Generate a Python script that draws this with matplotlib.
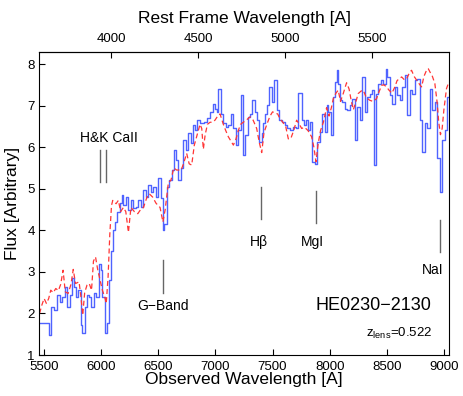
import matplotlib
matplotlib.use('Agg')
import matplotlib.pyplot as plt

# Liberation Sans looks closest to the Helvetica of the original
plt.rcParams['font.family'] = ['Liberation Sans', 'DejaVu Sans']
plt.rcParams['mathtext.fontset'] = 'custom'
plt.rcParams['mathtext.rm'] = 'Liberation Sans'
plt.rcParams['mathtext.it'] = 'Liberation Sans'

z_lens = 0.522

# observed spectrum, left edge of each bin (A) and flux
obs_wave = [5465, 5544, 5558, 5587, 5617, 5637, 5660, 5684, 5704, 5725,
            5748, 5763, 5783, 5800, 5821, 5835, 5856, 5879, 5894, 5914,
            5938, 5958, 5981, 5996, 6010, 6031, 6048, 6069, 6083, 6100,
            6120, 6140, 6160, 6180, 6194, 6218, 6238, 6258, 6282, 6305,
            6325, 6346, 6369, 6393, 6413, 6433, 6457, 6480, 6500, 6521,
            6538, 6553, 6573, 6597, 6617, 6638, 6655, 6675, 6696, 6719,
            6740, 6763, 6783, 6801, 6821, 6842, 6865, 6900, 6930, 6952,
            6976, 6996, 7011, 7025, 7046, 7069, 7093, 7113, 7133, 7157,
            7180, 7200, 7221, 7238, 7259, 7282, 7303, 7323, 7346, 7367,
            7385, 7405, 7420, 7434, 7454, 7472, 7492, 7513, 7536, 7556,
            7580, 7605, 7630, 7655, 7680, 7705, 7725, 7755, 7772, 7790,
            7812, 7828, 7848, 7870, 7892, 7915, 7935, 7955, 7973, 7988,
            8010, 8032, 8046, 8062, 8076, 8090, 8110, 8134, 8154, 8178,
            8198, 8221, 8242, 8265, 8286, 8309, 8329, 8353, 8367, 8385,
            8402, 8426, 8446, 8469, 8490, 8504, 8528, 8548, 8571, 8592,
            8615, 8636, 8659, 8679, 8703, 8723, 8746, 8767, 8790, 8811,
            8834, 8854, 8878, 8898, 8921, 8942, 8965, 8986, 9009, 9029,
            9045]
obs_flux = [1.77, 1.48, 2.16, 2.08, 2.44, 2.28, 2.40, 2.64, 2.16, 2.44,
            2.85, 2.64, 2.40, 2.56, 1.72, 1.52, 2.16, 2.44, 2.40, 2.16,
            2.48, 2.40, 3.20, 3.04, 2.40, 1.52, 1.77, 2.81, 3.50, 4.00,
            4.20, 4.45, 4.65, 4.85, 4.61, 4.81, 4.49, 4.73, 4.53, 4.57,
            4.73, 4.57, 4.97, 4.81, 5.09, 4.93, 5.05, 4.81, 5.25, 4.77,
            4.00, 4.16, 5.05, 5.21, 5.45, 5.93, 5.69, 5.21, 5.49, 6.17,
            5.93, 6.33, 6.09, 6.53, 6.41, 6.65, 6.57, 6.60, 6.70, 6.85,
            7.05, 6.93, 6.85, 7.39, 6.81, 6.57, 6.49, 6.53, 6.81, 6.45,
            6.05, 6.41, 7.25, 5.80, 6.29, 6.73, 6.81, 7.13, 6.85, 6.65,
            6.13, 6.35, 6.57, 6.81, 7.01, 7.45, 7.09, 7.61, 6.89, 6.65,
            6.60, 6.53, 6.45, 6.41, 6.49, 6.45, 7.30, 6.65, 6.53, 6.65,
            6.41, 6.61, 5.65, 5.60, 6.13, 6.37, 6.81, 6.37, 7.01, 6.85,
            6.29, 7.21, 7.57, 7.85, 7.53, 7.13, 7.09, 6.93, 6.89, 7.01,
            7.17, 6.17, 6.97, 6.65, 7.69, 6.85, 7.21, 7.29, 7.37, 5.57,
            7.29, 7.53, 7.61, 7.53, 7.89, 7.69, 7.25, 7.05, 7.45, 7.25,
            7.13, 7.45, 7.73, 6.77, 7.37, 7.29, 7.61, 7.65, 6.65, 5.89,
            6.57, 6.45, 7.41, 6.89, 7.09, 5.73, 4.93, 6.17, 6.41, 7.21,
            7.21]

# template spectrum (red dashed)
tmpl_wave = [5460, 5480, 5500, 5520, 5540, 5558, 5580, 5602, 5625, 5645,
             5666, 5685, 5710, 5735, 5755, 5775, 5806, 5822, 5838, 5855,
             5875, 5895, 5915, 5932, 5950, 5970, 5990, 6010, 6030, 6044,
             6060, 6075, 6090, 6101, 6130, 6150, 6170, 6194, 6215, 6238,
             6260, 6290, 6320, 6345, 6370, 6398, 6420, 6450, 6480, 6515,
             6540, 6560, 6588, 6610, 6635, 6660, 6680, 6700, 6720, 6748,
             6770, 6792, 6815, 6840, 6865, 6880, 6894, 6910, 6930, 6953,
             6975, 6996, 7020, 7040, 7069, 7090, 7113, 7135, 7157, 7180,
             7200, 7220, 7244, 7270, 7303, 7330, 7361, 7385, 7405, 7425,
             7450, 7478, 7500, 7521, 7545, 7565, 7590, 7615, 7638, 7660,
             7685, 7711, 7735, 7755, 7780, 7810, 7842, 7862, 7880, 7900,
             7920, 7945, 7973, 7995, 8015, 8032, 8055, 8075, 8095, 8120,
             8148, 8170, 8190, 8207, 8225, 8250, 8275, 8294, 8320, 8350,
             8380, 8411, 8435, 8455, 8475, 8498, 8520, 8545, 8571, 8590,
             8610, 8630, 8655, 8675, 8700, 8717, 8740, 8765, 8790, 8805,
             8825, 8848, 8863, 8880, 8900, 8921, 8940, 8955, 8970, 8985,
             9000, 9023, 9044]
tmpl_flux = [2.00, 2.20, 2.36, 2.24, 2.36, 2.56, 2.50, 2.60, 2.55, 2.70,
             3.04, 2.52, 2.48, 2.70, 3.06, 2.72, 2.76, 2.40, 1.96, 2.50,
             2.68, 2.72, 2.56, 3.26, 3.36, 3.04, 2.80, 2.56, 2.40, 2.24,
             2.88, 3.90, 4.60, 4.72, 4.64, 4.72, 4.45, 4.55, 4.45, 3.95,
             4.55, 4.45, 4.40, 4.50, 4.55, 4.78, 4.88, 4.80, 4.65, 4.55,
             4.20, 4.50, 5.15, 5.20, 5.50, 5.45, 5.45, 5.45, 5.60, 5.85,
             5.60, 5.57, 6.05, 6.30, 6.55, 6.45, 5.95, 6.30, 6.55, 6.60,
             6.60, 6.65, 6.75, 6.80, 6.55, 6.40, 6.25, 6.15, 6.05, 6.20,
             6.40, 6.55, 6.60, 6.65, 6.73, 6.65, 6.45, 6.10, 5.87, 6.35,
             6.55, 6.75, 6.85, 6.82, 6.80, 6.68, 6.60, 6.50, 6.20, 6.21,
             6.40, 6.65, 6.55, 6.45, 6.48, 6.40, 6.25, 6.00, 5.65, 6.10,
             6.40, 6.60, 6.95, 6.75, 6.95, 7.17, 7.30, 7.37, 7.10, 7.30,
             7.55, 7.40, 7.10, 6.90, 7.05, 7.29, 7.35, 7.37, 7.20, 7.13,
             7.10, 7.17, 7.35, 7.49, 7.50, 7.45, 7.37, 7.30, 7.45, 7.60,
             7.65, 7.69, 7.62, 7.65, 7.80, 7.85, 7.70, 7.60, 7.50, 7.45,
             7.70, 7.85, 7.89, 7.80, 7.70, 7.53, 7.10, 6.60, 6.30, 6.45,
             6.90, 7.41, 7.57]

# absorption features: rest wavelength, line bottom/top, label text, label pos
feat_rest = [3934, 3969, 4300, 4861, 5175, 5893]
feat_y0 = [5.16, 5.16, 2.49, 4.27, 4.17, 3.48]
feat_y1 = [5.93, 5.93, 3.28, 5.05, 4.95, 4.26]
label_text = ['H&K CaII', 'G\u2212Band', 'H\u03b2', 'MgI', 'NaI']
label_x = [6071, 6538, 7382, 7851, 8899]
label_y = [6.23, 2.18, 3.72, 3.72, 3.04]

fig = plt.figure(figsize=(4.63, 3.96), dpi=100)
ax = fig.add_axes([0.0842, 0.1035, 0.8856, 0.7652])

ax.step(obs_wave, obs_flux, where='post', color='#4f63ff', lw=1.0)
ax.plot(tmpl_wave, tmpl_flux, color='#ff3535', lw=0.9, dashes=(4, 2.5))

for lam, y0, y1 in zip(feat_rest, feat_y0, feat_y1):
    obs = lam * (1 + z_lens)
    ax.plot([obs, obs], [y0, y1], color='0.4', lw=1.0)

for t, x, y in zip(label_text, label_x, label_y):
    ax.text(x, y, t, ha='center', va='center', fontsize=10)

ax.text(8892, 2.18, 'HE0230\u22122130', ha='right', va='center', fontsize=13)
ax.text(8895, 1.53, r'z$_{\rm lens}$=0.522', ha='right', va='center', fontsize=9.5)

ax.set_xlim(5455, 9045)
ax.set_ylim(1, 8.29)
ax.set_xticks(range(5500, 9001, 500))
ax.set_yticks(range(1, 9))
ax.tick_params(direction='in', length=4, labelsize=9.5)
ax.tick_params(axis='x', top=False, pad=4.5)
ax.tick_params(axis='y', pad=3)
ax.set_xlabel('Observed Wavelength [A]', fontsize=12.5, labelpad=-1)
ax.set_ylabel('Flux [Arbitrary]', fontsize=12.5, labelpad=5)

top = ax.secondary_xaxis('top', functions=(lambda x: x / (1 + z_lens),
                                           lambda x: x * (1 + z_lens)))
top.set_xticks([4000, 4500, 5000, 5500])
top.tick_params(direction='in', length=4, labelsize=9.5, pad=5)
top.set_xlabel('Rest Frame Wavelength [A]', fontsize=12.5, labelpad=7)

fig.savefig('out.png', dpi=100)
